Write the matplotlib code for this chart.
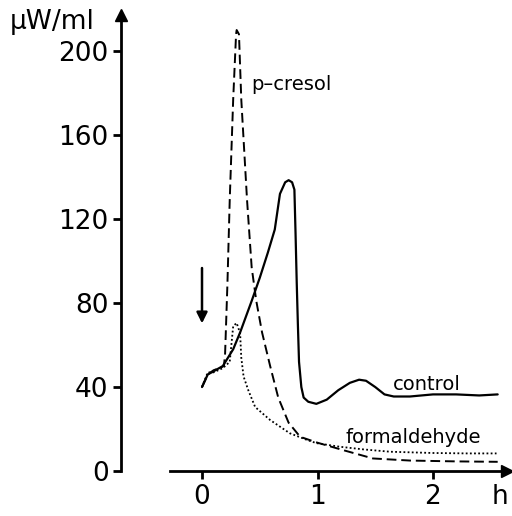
import matplotlib
matplotlib.use('Agg')
import matplotlib.pyplot as plt

plt.rcParams['font.family'] = ['DejaVu Sans']

# 数据：单位 h / µW/ml
control_x = [0.0, 0.05, 0.1, 0.18, 0.27, 0.33, 0.43, 0.5, 0.57, 0.63, 0.675, 0.72, 0.75,
             0.78, 0.80, 0.81, 0.82, 0.83, 0.84, 0.86, 0.88, 0.92, 0.99, 1.08, 1.18, 1.28,
             1.36, 1.42, 1.5, 1.58, 1.66, 1.8, 2.0, 2.2, 2.4, 2.56]
control_y = [40, 46, 47.5, 50, 58, 66, 81, 92, 104, 115, 132, 137.5, 138.5,
             137.5, 134, 113, 90, 70, 52, 40, 35, 33, 32, 34, 38.5, 42,
             43.5, 43, 40, 36.5, 35.5, 35.5, 36.5, 36.5, 36, 36.5]

cresol_x = [0.0, 0.05, 0.1, 0.15, 0.19, 0.2, 0.22, 0.24, 0.27, 0.295, 0.30, 0.32, 0.34,
            0.39, 0.43, 0.47, 0.52, 0.59, 0.66, 0.75, 0.85, 1.0, 1.22, 1.48, 1.8, 2.2, 2.56]
cresol_y = [40, 46, 48, 49, 50, 56, 89, 129, 177, 208, 210, 208, 177,
            129, 97, 81, 66, 50, 35, 23, 16.3, 13.5, 10, 6, 5, 4.6, 4.4]

formal_x = [0.0, 0.05, 0.1, 0.18, 0.24, 0.27, 0.30, 0.33, 0.34, 0.36, 0.40, 0.46, 0.59,
            0.76, 0.91, 0.99, 1.19, 1.4, 1.63, 2.0, 2.3, 2.55]
formal_y = [40, 47, 47, 49, 52, 69, 70.5, 65.6, 54, 45, 38.6, 30.5, 24.3,
            18, 14.8, 13.3, 11.6, 10.3, 9.2, 8.6, 8.4, 8.4]

y_ticks = [0, 40, 80, 120, 160, 200]
x_ticks = [0, 1, 2]

fig = plt.figure(figsize=(5.12, 5.16), dpi=100)
ax = fig.add_axes([0, 0, 1, 1])
ax.set_xlim(-1.749, 2.684)
ax.set_ylim(-21.4, 224.3)

# 曲线
ax.plot(control_x, control_y, color='black', lw=1.6, solid_capstyle='round')
ax.plot(cresol_x, cresol_y, color='black', lw=1.4, dashes=(5, 2.5))
ax.plot(formal_x, formal_y, color='black', lw=1.3, linestyle=(0, (1, 1.3)))

# 坐标轴
for s in ['top', 'right']:
    ax.spines[s].set_visible(False)
ax.spines['left'].set_position(('data', -0.7))
ax.spines['left'].set_bounds(0, 217)
ax.spines['bottom'].set_position(('data', 0))
ax.spines['bottom'].set_bounds(-0.28, 2.64)
ax.spines['left'].set_linewidth(2.0)
ax.spines['bottom'].set_linewidth(2.0)
ax.plot(-0.7, 217, marker='^', color='black', markersize=8, clip_on=False)
ax.plot(2.64, 0, marker='>', color='black', markersize=8, clip_on=False)

ax.set_yticks(y_ticks)
ax.set_yticklabels([str(v) for v in y_ticks])
ax.set_xticks(x_ticks)
ax.set_xticklabels([str(v) for v in x_ticks])
ax.tick_params(axis='y', direction='out', length=6, width=2, pad=3, labelsize=19)
ax.tick_params(axis='x', direction='out', length=6, width=2, pad=3, labelsize=19)

# 文本标注
ax.text(-1.30, 214, 'µW/ml', fontsize=19, ha='center', va='center')
ax.text(2.58, -12.5, 'h', fontsize=19, ha='center', va='center')
ax.text(0.43, 184, 'p–cresol', fontsize=14, ha='left', va='center')
ax.text(1.65, 41, 'control', fontsize=14, ha='left', va='center')
ax.text(1.24, 16, 'formaldehyde', fontsize=14, ha='left', va='center')

# 加药箭头
ax.annotate('', xy=(0.0, 69), xytext=(0.0, 98),
            arrowprops=dict(arrowstyle='-|>', color='black', lw=1.8, mutation_scale=16))

fig.savefig('out.png', dpi=100)
